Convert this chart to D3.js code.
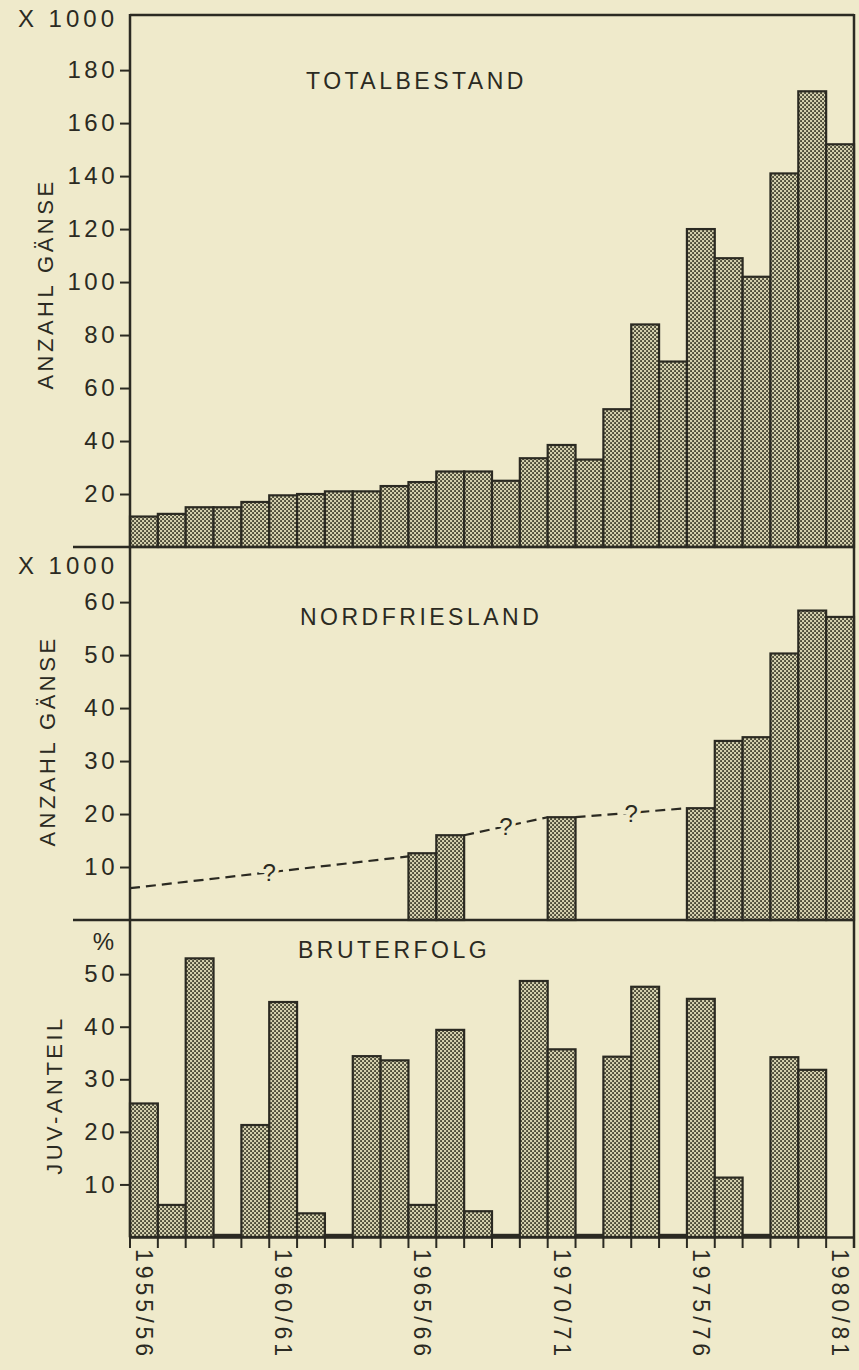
<!DOCTYPE html>
<html>
<head>
<meta charset="utf-8">
<script src="https://cdn.jsdelivr.net/npm/d3@7"></script>
<style>
  body { margin: 0; background: #efeacb; }
  svg text { font-family: "Liberation Sans", Arial, sans-serif; fill: #2b2a22; }
</style>
</head>
<body>
<div id="chart"></div>
<script>
// seasons on the x axis (one bar each)
var seasons = ["1955/56","1956/57","1957/58","1958/59","1959/60","1960/61","1961/62",
  "1962/63","1963/64","1964/65","1965/66","1966/67","1967/68","1968/69","1969/70",
  "1970/71","1971/72","1972/73","1973/74","1974/75","1975/76","1976/77","1977/78",
  "1978/79","1979/80","1980/81"]
var labelSeasons = ["1955/56","1960/61","1965/66","1970/71","1975/76","1980/81"]

// x 1000 geese
var totalBestand = [11.5, 12.5, 15, 15, 17, 19.5, 20, 21, 21, 23, 24.5, 28.5, 28.5,
  25, 33.5, 38.5, 33, 52, 84, 70, 120, 109, 102, 141, 172, 152]
var nordfriesland = [null, null, null, null, null, null, null, null, null, null, 12.6, 16,
  null, null, null, 19.4, null, null, null, null, 21.1, 33.8, 34.5, 50.3, 58.4, 57.2]
// % juveniles
var bruterfolg = [25.4, 6.1, 53, 0.4, 21.3, 44.7, 4.5, 0.4, 34.4, 33.6, 6.1, 39.4, 4.9,
  0.4, 48.7, 35.7, 0.4, 34.3, 47.6, 0.4, 45.3, 11.3, 0.4, 34.2, 31.8, null]

// dashed guesses between counts: [season, edge (0 left / 1 right), value]
var nordTrend = [
  [["1955/56", 0, 6], ["1965/66", 0, 12]],
  [["1966/67", 1, 16], ["1970/71", 0, 19.4]],
  [["1970/71", 1, 19.4], ["1975/76", 0, 21.1]]
]

var totalTicks = [20, 40, 60, 80, 100, 120, 140, 160, 180]
var nordTicks = [10, 20, 30, 40, 50, 60]
var brutTicks = [10, 20, 30, 40, 50]

var w = 859
var h = 1370
var left = 130
var right = 854
var ink = "#2b2a22"
var paper = "#efeacb"

var svg = d3.select("#chart").append("svg").attr("width", w).attr("height", h)

// stipple fill like the printed halftone
var pat = svg.append("defs").append("pattern")
  .attr("id", "dots").attr("width", 4).attr("height", 4)
  .attr("patternUnits", "userSpaceOnUse")
pat.append("rect").attr("width", 4).attr("height", 4).attr("fill", "#d3cfad")
pat.append("rect").attr("x", 0.1).attr("y", 0.1).attr("width", 1.9).attr("height", 1.9).attr("fill", "#4a4936")
pat.append("rect").attr("x", 2.1).attr("y", 2.1).attr("width", 1.9).attr("height", 1.9).attr("fill", "#4a4936")

var x = d3.scaleBand().domain(seasons).range([left, right]).padding(0)

function panel(values, top, bottom, maxV, ticks, title, titlePos, axisTitle, titleCenter, unit, unitY) {
  var y = d3.scaleLinear().domain([0, maxV]).range([bottom, top])

  var rows = seasons.map(function(s, i) { return {s: s, v: values[i]} })
    .filter(function(d) { return d.v != null })

  svg.append("g").selectAll("rect")
    .data(rows)
    .enter()
    .append("rect")
    .attr("x", function(d) { return x(d.s) })
    .attr("y", function(d) { return y(d.v) })
    .attr("width", x.bandwidth())
    .attr("height", function(d) { return bottom - y(d.v) })
    .attr("fill", "url(#dots)")
    .attr("stroke", ink)
    .attr("stroke-width", 2.2)

  // y axis ticks pointing left
  var ax = svg.append("g")
    .attr("transform", "translate(" + left + ",0)")
    .call(d3.axisLeft(y).tickValues(ticks).tickSize(10).tickPadding(2))
  ax.select(".domain").remove()
  ax.selectAll("line").attr("stroke", ink).attr("stroke-width", 2)
  ax.selectAll("text")
    .attr("font-size", 24).attr("letter-spacing", 3.5)
    .attr("fill", ink)

  svg.append("text")
    .text(title)
    .attr("x", titlePos[0])
    .attr("y", titlePos[1])
    .attr("font-size", 23)
    .attr("letter-spacing", 3.5)

  svg.append("text")
    .text(axisTitle)
    .attr("transform", "translate(" + titleCenter[0] + "," + titleCenter[1] + ") rotate(-90)")
    .attr("text-anchor", "middle")
    .attr("font-size", 22)
    .attr("letter-spacing", 3.5)

  svg.append("text")
    .text(unit)
    .attr("x", 118)
    .attr("y", unitY)
    .attr("text-anchor", "end")
    .attr("font-size", 24)
    .attr("letter-spacing", 4)

  return y
}

var y1 = panel(totalBestand, 15, 547, 200.8, totalTicks, "TOTALBESTAND", [306, 89],
  "ANZAHL GÄNSE", [53, 284], "X 1000", 27)
var y2 = panel(nordfriesland, 547, 920, 70.4, nordTicks, "NORDFRIESLAND", [300, 625],
  "ANZAHL GÄNSE", [55, 741], "X 1000", 574)
var y3 = panel(bruterfolg, 920, 1237, 60.3, brutTicks, "BRUTERFOLG", [298, 958],
  "JUV-ANTEIL", [62, 1095], "%", 950)

// dashed trend in Nordfriesland with question marks
var line = d3.line()
  .x(function(p) { return x(p[0]) + p[1] * x.bandwidth() })
  .y(function(p) { return y2(p[2]) })

svg.append("g").selectAll("path")
  .data(nordTrend)
  .enter()
  .append("path")
  .attr("d", line)
  .attr("fill", "none")
  .attr("stroke", ink)
  .attr("stroke-width", 2.2)
  .attr("stroke-dasharray", "10,6")

svg.append("g").selectAll("text")
  .data(nordTrend)
  .enter()
  .append("text")
  .text("?")
  .attr("x", function(d) { return (line.x()(d[0]) + line.x()(d[1])) / 2 })
  .attr("y", function(d) { return (line.y()(d[0]) + line.y()(d[1])) / 2 + 9 })
  .attr("text-anchor", "middle")
  .attr("font-size", 24)
  .attr("stroke", paper)
  .attr("stroke-width", 8)
  .attr("paint-order", "stroke")

// frame and panel dividers
var frame = svg.append("g").attr("stroke", ink).attr("stroke-width", 2.5).attr("fill", "none")
frame.append("line").attr("x1", left).attr("x2", right).attr("y1", 15).attr("y2", 15)
frame.append("line").attr("x1", left).attr("x2", left).attr("y1", 14).attr("y2", 1237)
frame.append("line").attr("x1", right).attr("x2", right).attr("y1", 14).attr("y2", 1248)
frame.selectAll("line.div")
  .data([y1(0), y2(0)])
  .enter()
  .append("line")
  .attr("x1", 73).attr("x2", right)
  .attr("y1", function(d) { return d }).attr("y2", function(d) { return d })

// bottom axis with season ticks and rotated labels
var xa = svg.append("g")
  .attr("transform", "translate(0," + y3(0) + ")")
  .call(d3.axisBottom(x).tickSize(0).tickFormat(""))
xa.select(".domain").attr("stroke", ink).attr("stroke-width", 2.5)

xa.selectAll("line.edge")
  .data(seasons)
  .enter()
  .append("line")
  .attr("x1", function(d) { return x(d) })
  .attr("x2", function(d) { return x(d) })
  .attr("y1", 0).attr("y2", 11)
  .attr("stroke", ink).attr("stroke-width", 2)

xa.selectAll("text.lab")
  .data(labelSeasons)
  .enter()
  .append("text")
  .text(function(d) { return d })
  .attr("transform", function(d) {
    return "translate(" + (x(d) + x.bandwidth() / 2) + ",12) rotate(90)"
  })
  .attr("text-anchor", "start")
  .attr("dy", "0.35em")
  .attr("font-size", 23)
  .attr("letter-spacing", 4)
  .attr("fill", ink)
</script>
</body>
</html>
